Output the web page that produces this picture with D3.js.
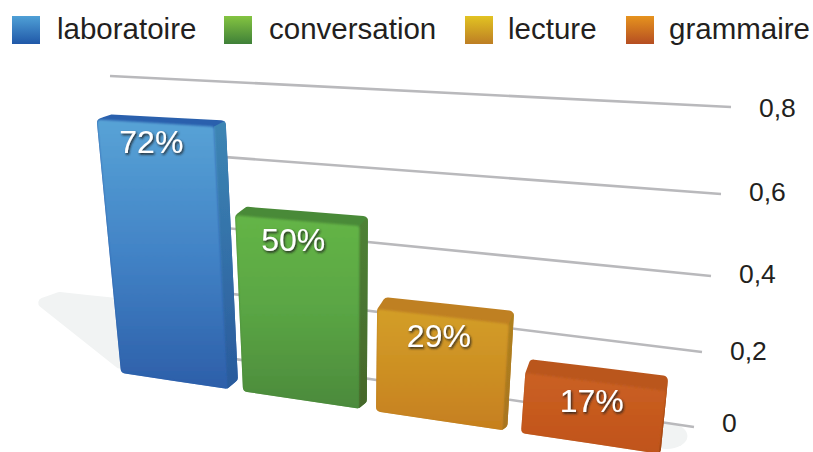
<!DOCTYPE html>
<html>
<head>
<meta charset="utf-8">
<script src="https://cdn.jsdelivr.net/npm/d3@7"></script>
<style>
  html, body { margin: 0; padding: 0; background: #fff; }
  svg { display: block; font-family: "Liberation Sans", Arial, sans-serif; }
</style>
</head>
<body>
<svg id="chart" width="813" height="452"></svg>
<script>
const categories = ["laboratoire", "conversation", "lecture", "grammaire"];
const values = [0.72, 0.5, 0.29, 0.17];
const tickValues = [0, 0.2, 0.4, 0.6, 0.8];
const tickLabels = ["0", "0,2", "0,4", "0,6", "0,8"];

// front, top and side shades of each bar, then the legend swatch
const frontColors = [["#58a3d6", "#4283c6", "#2d5fa9"], ["#64b546", "#5aa544", "#4c8a3c"], ["#d39e27", "#cd9024", "#c67f1f"], ["#ca6024", "#c65a1e", "#c0531a"]];
const topColors = ["#2a60ad", "#4a8a38", "#bf8023", "#ba571e"];
const sideColors = [["#3d86b4", "#2a5a9c"], ["#4f8236", "#45662a"], ["#b0821f", "#a87420"], ["#ad4f18", "#a04614"]];
const legendColors = [["#4fa0d6", "#2058a8"], ["#84c441", "#3f8038"], ["#e2c322", "#bd7e24"], ["#e6931e", "#b54e22"]];

const svg = d3.select("#chart");
const defs = svg.append("defs");

function gradient(id, stops) {
  const g = defs.append("linearGradient").attr("id", id)
    .attr("x1", 0).attr("y1", 0).attr("x2", 0).attr("y2", 1);
  stops.forEach((c, i) => g.append("stop").attr("offset", i / (stops.length - 1)).attr("stop-color", c));
}

const shadow = defs.append("filter").attr("id", "labelShadow")
  .attr("x", "-20%").attr("y", "-20%").attr("width", "140%").attr("height", "140%");
shadow.append("feDropShadow").attr("dx", 1.2).attr("dy", 1.6).attr("stdDeviation", 0.9)
  .attr("flood-color", "#1c1c1c").attr("flood-opacity", 0.95);

const soft = defs.append("filter").attr("id", "soft");
soft.append("feGaussianBlur").attr("stdDeviation", 0.5);
const softer = defs.append("filter").attr("id", "softer");
softer.append("feGaussianBlur").attr("stdDeviation", 1.1);

// the picture is a perspective view, so the scales are not one straight axis
const xFloor = d3.scaleLinear().domain([0, 1, 2, 3, 4]).range([121, 243, 376, 521, 679]);
const floorY = d3.scaleLinear().domain([121, 521]).range([373, 433]);
const barHeight = d3.scaleLinear().domain([0, 1]).range([0, 352]);
const lean = x => (x - 350) * 0.00042;
const slope = d3.scaleLinear().domain([0, 0.8]).range([0.148, 0.05]);
const backShift = d3.scaleLinear().domain([100, 670]).range([14, 2]);
const topDepth = d3.scaleLinear().domain([0.17, 0.72]).range([14, 5]);
const footDepth = d3.scaleLinear().domain([230, 655]).range([9, 1]);
const barWidth = 0.87;

const gridRightX = d3.scaleLinear().domain(tickValues).range([694, 702, 711, 721, 731]);
const gridRightY = d3.scaleLinear().domain(tickValues).range([427, 352, 276, 194, 107]);
const gridLeftX = d3.scaleLinear().domain([0, 0.8]).range([130, 110]);
const tickLabelY = d3.scaleLinear().domain(tickValues).range([432, 360, 283, 201, 117]);

const legendX = d3.scaleOrdinal().domain(categories).range([12, 224, 465, 626]);
const legendTextX = d3.scaleOrdinal().domain(categories).range([57, 269, 508, 669]);

function rounded(points, r) {
  const p = d3.path();
  const n = points.length;
  const mid = (a, b) => [(a[0] + b[0]) / 2, (a[1] + b[1]) / 2];
  const start = mid(points[n - 1], points[0]);
  p.moveTo(start[0], start[1]);
  points.forEach((pt, i) => {
    const next = points[(i + 1) % n];
    const m = mid(pt, next);
    p.arcTo(pt[0], pt[1], m[0], m[1], r);
    p.lineTo(m[0], m[1]);
  });
  p.closePath();
  return p.toString();
}

// ground shadows
const blueX = xFloor(0);
svg.append("path")
  .attr("d", rounded([[blueX - 88, floorY(blueX) - 72], [blueX - 62, floorY(blueX) - 81], [blueX - 5, floorY(blueX) - 75], [blueX + 5, floorY(blueX) + 2]], 5))
  .attr("fill", "#f1f3f3").attr("filter", "url(#soft)");
const lastX = xFloor(3 + barWidth);
svg.append("ellipse")
  .attr("cx", lastX + 8).attr("cy", gridRightY(0) + 9)
  .attr("rx", 21).attr("ry", 13)
  .attr("fill", "#f1f3f3").attr("filter", "url(#soft)");

// gridlines and tick labels
tickValues.forEach((t, i) => {
  const x2 = gridRightX(t), y2 = gridRightY(t), x1 = gridLeftX(t);
  svg.append("line")
    .attr("x1", x1).attr("y1", y2 - slope(t) * (x2 - x1))
    .attr("x2", x2).attr("y2", y2)
    .attr("stroke", "#b9b9bc").attr("stroke-width", 2.6);
  svg.append("text")
    .attr("x", x2 + 28).attr("y", tickLabelY(t))
    .attr("font-size", 26.5).attr("fill", "#231f20")
    .text(tickLabels[i]);
});

// bars
values.forEach((v, i) => {
  const xl = xFloor(i), xr = xFloor(i + barWidth);
  const h = barHeight(v);
  const bl = [xl, floorY(xl)];
  const br = [xr, floorY(xr)];
  const tl = [xl + lean(xl) * h, bl[1] - h];
  const trX = xr + lean(xr) * h;
  const tr = [trX, tl[1] + slope(v) * (trX - tl[0])];
  const d = topDepth(v);
  const tlBack = [tl[0] + backShift(tl[0]), tl[1] - d];
  const trBack = [tr[0] + backShift(tr[0]), tr[1] - d - 1];
  const foot = [br[0] + backShift(br[0]) * 0.95, br[1] - footDepth(br[0])];

  const g = svg.append("g").attr("filter", "url(#soft)");
  const clipId = "bar" + i;
  const outline = rounded([tl, tlBack, trBack, foot, br, bl], 5);
  defs.append("clipPath").attr("id", clipId).append("path").attr("d", outline);

  gradient("front" + i, frontColors[i]);
  gradient("side" + i, sideColors[i]);

  g.append("path").attr("d", outline).attr("fill", topColors[i]);
  const inner = g.append("g").attr("clip-path", "url(#" + clipId + ")");
  inner.append("path")
    .attr("d", d3.line()([tr, trBack, [foot[0] + 4, foot[1]], foot, br]) + "Z")
    .attr("fill", "url(#side" + i + ")");
  inner.append("path")
    .attr("d", rounded([tl, tr, br, bl], 3))
    .attr("fill", "url(#front" + i + ")")
    .attr("filter", "url(#softer)");

  svg.append("text")
    .attr("x", (tl[0] + tr[0]) / 2 - 4)
    .attr("y", (tl[1] + tr[1]) / 2 + 30)
    .attr("text-anchor", "middle")
    .attr("font-size", 32).attr("fill", "#fff")
    .attr("filter", "url(#labelShadow)")
    .text(Math.round(v * 100) + "%");
});

// legend
categories.forEach((c, i) => {
  gradient("legend" + i, legendColors[i]);
  svg.append("rect")
    .attr("x", legendX(c)).attr("y", 16)
    .attr("width", 28).attr("height", 28)
    .attr("fill", "url(#legend" + i + ")");
  svg.append("text")
    .attr("x", legendTextX(c)).attr("y", 39)
    .attr("font-size", 29.5).attr("fill", "#231f20")
    .text(c);
});
</script>
</body>
</html>
